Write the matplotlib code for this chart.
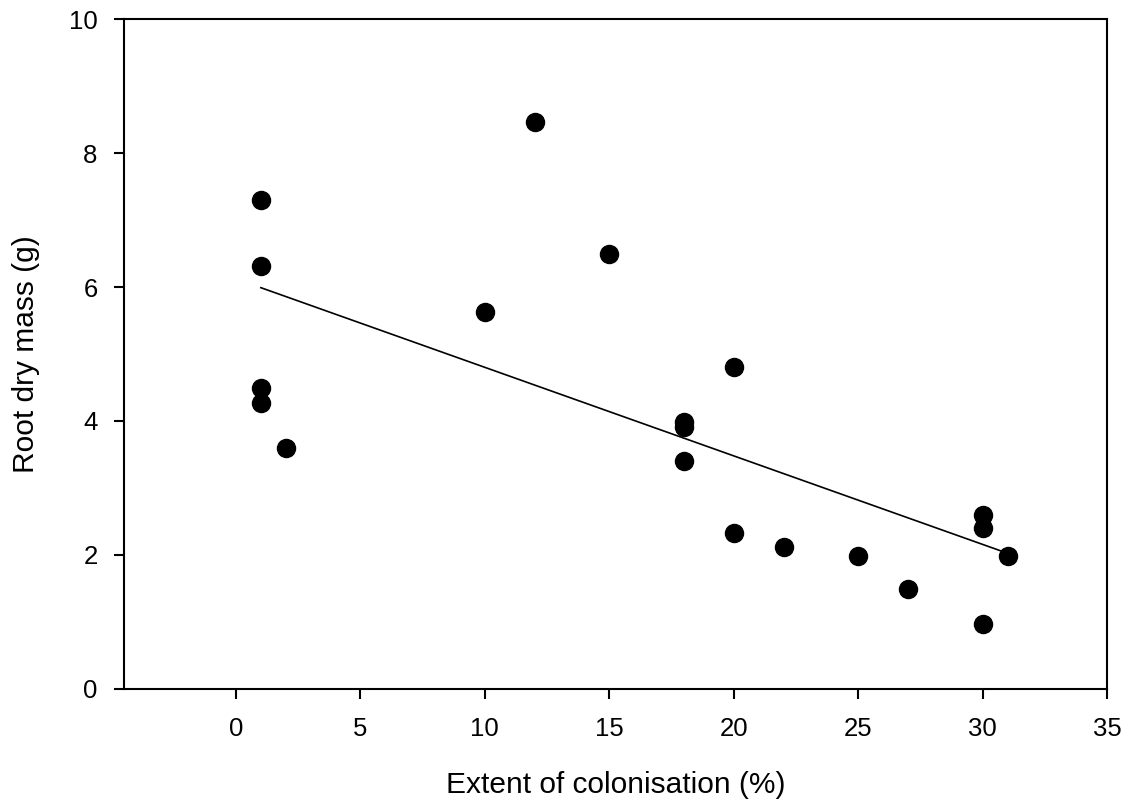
import numpy as np
import matplotlib
matplotlib.use("Agg")
import matplotlib.pyplot as plt

plt.rcParams['font.family'] = ['Liberation Sans', 'DejaVu Sans']

# extent of colonisation (%) and root dry mass (g)
colonisation = [1, 1, 1, 1, 2, 10, 12, 15, 18, 18, 18, 20, 20, 22, 25, 27, 30, 30, 30, 31]
root_mass = [7.3, 6.32, 4.49, 4.27, 3.6, 5.63, 8.46, 6.49, 3.99, 3.91, 3.4, 4.81,
             2.33, 2.12, 1.99, 1.49, 2.6, 2.41, 0.97, 1.99]

x_ticks = [0, 5, 10, 15, 20, 25, 30, 35]
y_ticks = [0, 2, 4, 6, 8, 10]

fig = plt.figure(figsize=(11.32, 8.06), dpi=100)
ax = fig.add_axes([0.1095, 0.1452, 0.8685, 0.8312])

# least squares line over the data range
slope, intercept = np.polyfit(colonisation, root_mass, 1)
xl = np.array([min(colonisation), max(colonisation)])
ax.plot(xl, slope * xl + intercept, color='black', lw=1.2, zorder=2)

ax.plot(colonisation, root_mass, 'o', color='black', markersize=13, zorder=3)

ax.set_xlim(-4.5, 35)
ax.set_ylim(0, 10)
ax.set_xticks(x_ticks)
ax.set_yticks(y_ticks)
ax.tick_params(direction='out', length=7, width=1.5, labelsize=18.5, pad=13)
ax.tick_params(axis='y', pad=12)
for s in ax.spines.values():
    s.set_linewidth(1.5)

ax.set_xlabel('Extent of colonisation (%)', fontsize=21.5, labelpad=22)
ax.set_ylabel('Root dry mass (g)', fontsize=21.5, labelpad=21)

fig.savefig('out.png', dpi=100)
